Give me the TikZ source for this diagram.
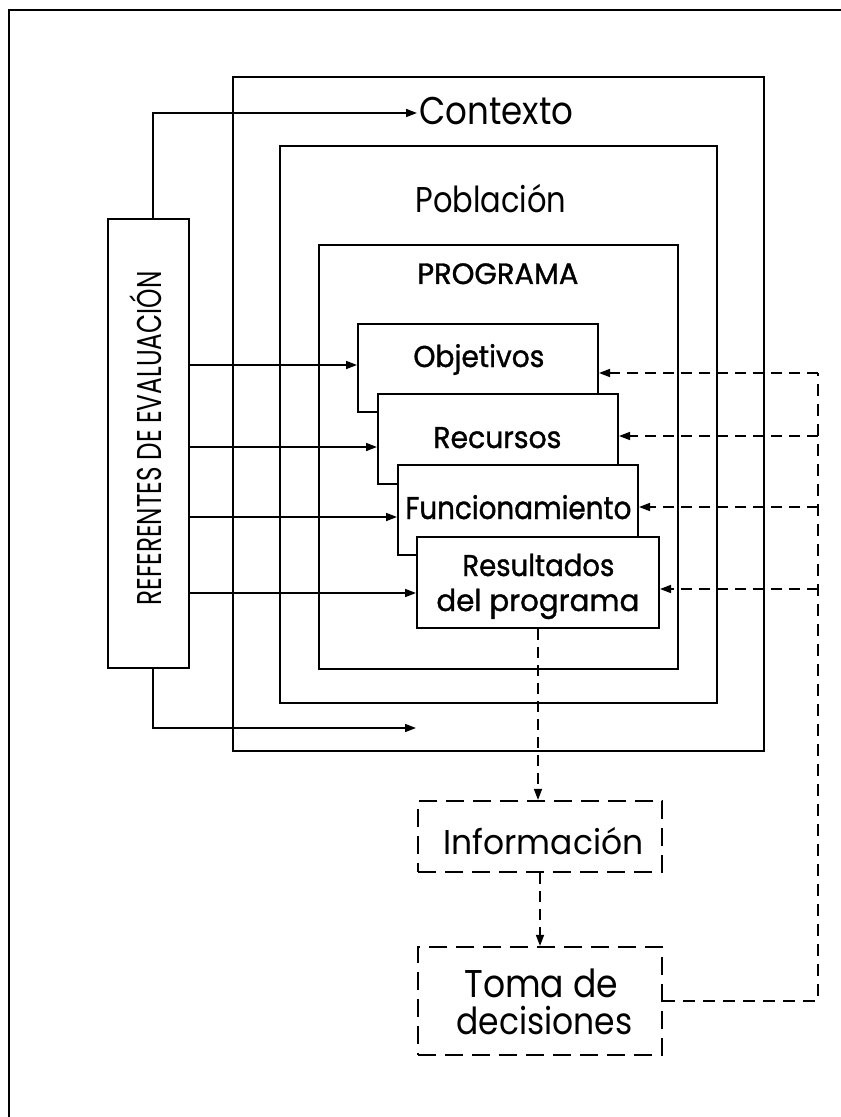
\documentclass[tikz,border=0pt]{standalone}
\usepackage{fontspec}
\setmainfont{Poppins}
\newfontfamily\heavyfont[FakeBold=1.2]{Poppins}
\usepackage{graphicx}
\usetikzlibrary{arrows.meta}

% Set text #3 so that it is #1 px wide and its capitals are #2 px high (1px = 0.5pt)
\newcommand\fitt[3]{%
  \begingroup
  \setbox0=\hbox{#3}%
  \edef\fitwd{\the\wd0}%
  \edef\fitcap{\the\fontcharht\font`H}%
  \pgfmathsetmacro\fitx{#1*0.5/\fitwd}%
  \pgfmathsetmacro\fity{#2*0.5/\fitcap}%
  \scalebox{\fitx}[\fity]{\copy0}%
  \endgroup}

% Rectangle node from its corners (x1,y1)-(x2,y2)
\newcommand\rectnode[6]{%
  \node[#6, minimum width={(#4-#2)*0.5pt}, minimum height={(#5-#3)*0.5pt}]
    (#1) at ({(#2+#4)/2},{(#3+#5)/2}) {};}

\tikzset{
  frame/.style={draw, line width=1pt, inner sep=0pt},
  panel/.style={draw, fill=white, line width=1pt, inner sep=0pt},
  dbox/.style={draw, line width=1.1pt, dash pattern=on 9pt off 4.5pt, inner sep=0pt},
  lbl/.style={inner sep=0pt, anchor=base west},
  hlbl/.style={lbl, font=\heavyfont},
  conn/.style={line width=0.8pt, -{Triangle[length=5.5pt,width=4pt]}},
  fdash/.style={line width=0.8pt, dash pattern=on 6pt off 4pt},
  fback/.style={line width=0.8pt, dash pattern=on 5.5pt off 3.5pt, -{Triangle[length=5.5pt,width=4pt]}},
}

\begin{document}
\begin{tikzpicture}[x=0.5pt, y=-0.5pt]
\useasboundingbox (0,0) rectangle (840,1117);
\fill[white] (0,0) rectangle (840,1117);

% page frame (top and left edges)
\draw[line width=1pt] (850,10) -- (9,10) -- (9,1130);

% nested frames
\rectnode{ctx}{233}{77}{764}{751}{frame}
\rectnode{pob}{280}{146}{717}{703}{frame}
\rectnode{prg}{319}{245}{678}{669}{frame}

% stacked components of the programme
\rectnode{obj}{358}{324}{598}{412}{panel}
\rectnode{rec}{378}{394}{618}{484}{panel}
\rectnode{fun}{398}{465}{638}{555}{panel}
\rectnode{res}{417}{537}{659}{628}{panel}

% evaluation references, information, decisions
\rectnode{ref}{108}{219}{189}{668}{frame}
\rectnode{inf}{418}{801}{662}{872}{dbox}
\rectnode{tom}{418}{947}{662}{1055}{dbox}

% labels
\node[lbl] (tctx) at (419,125) {\fitt{154}{27}{Contexto}};
\node[lbl] (tpob) at (415,213) {\fitt{151}{25}{Población}};
\node[hlbl] (tprg) at (417,284) {\fitt{161}{20.5}{PROGRAMA}};
\node[hlbl] (tobj) at (413,367) {\fitt{131}{21}{Objetivos}};
\node[hlbl] (trec) at (433,448) {\fitt{128}{21}{Recursos}};
\node[hlbl] (tfun) at (405,519) {\fitt{226}{22}{Funcionamiento}};
\node[hlbl] (tres1) at (462,576) {\fitt{152}{21}{Resultados}};
\node[hlbl] (tres2) at (436,611) {\fitt{203}{21}{del programa}};
\node[lbl] (tinf) at (443,854) {\fitt{200}{24}{Información}};
\node[lbl] (ttom1) at (464,997) {\fitt{154}{27}{Toma de}};
\node[lbl] (ttom2) at (456,1034) {\fitt{176}{26}{decisiones}};
\node[lbl, rotate=90] (tref) at (161,606) {\fitt{334}{24}{REFERENTES DE EVALUACIÓN}};

% connector end points
\coordinate (reftop) at (153,219);
\coordinate (refbot) at (153,668);
\coordinate (ctxin) at (417,113);
\coordinate (botin) at (416,728);
\coordinate (a1) at (189,365);
\coordinate (a2) at (189,447);
\coordinate (a3) at (189,517);
\coordinate (a4) at (189,593);
\coordinate (b1) at (818,373);
\coordinate (b2) at (818,436);
\coordinate (b3) at (818,507);
\coordinate (b4) at (818,589);

% references to context and programme parts
\draw[conn] (reftop) |- (ctxin);
\draw[conn] (refbot) |- (botin);
\draw[conn] (a1) -- (a1 -| obj.west);
\draw[conn] (a2) -- (a2 -| rec.west);
\draw[conn] (a3) -- (a3 -| fun.west);
\draw[conn] (a4) -- (a4 -| res.west);

% results to information to decisions
\draw[fback] (res.south) -- (res.south |- inf.north);
\draw[fback] (inf.south) -- (tom.north);

% feedback from decisions
\draw[fdash] (tom.east) -| (b1);
\draw[fback] (b1) -- (b1 -| obj.east);
\draw[fback] (b2) -- (b2 -| rec.east);
\draw[fback] (b3) -- (b3 -| fun.east);
\draw[fback] (b4) -- (b4 -| res.east);
\end{tikzpicture}
\end{document}
